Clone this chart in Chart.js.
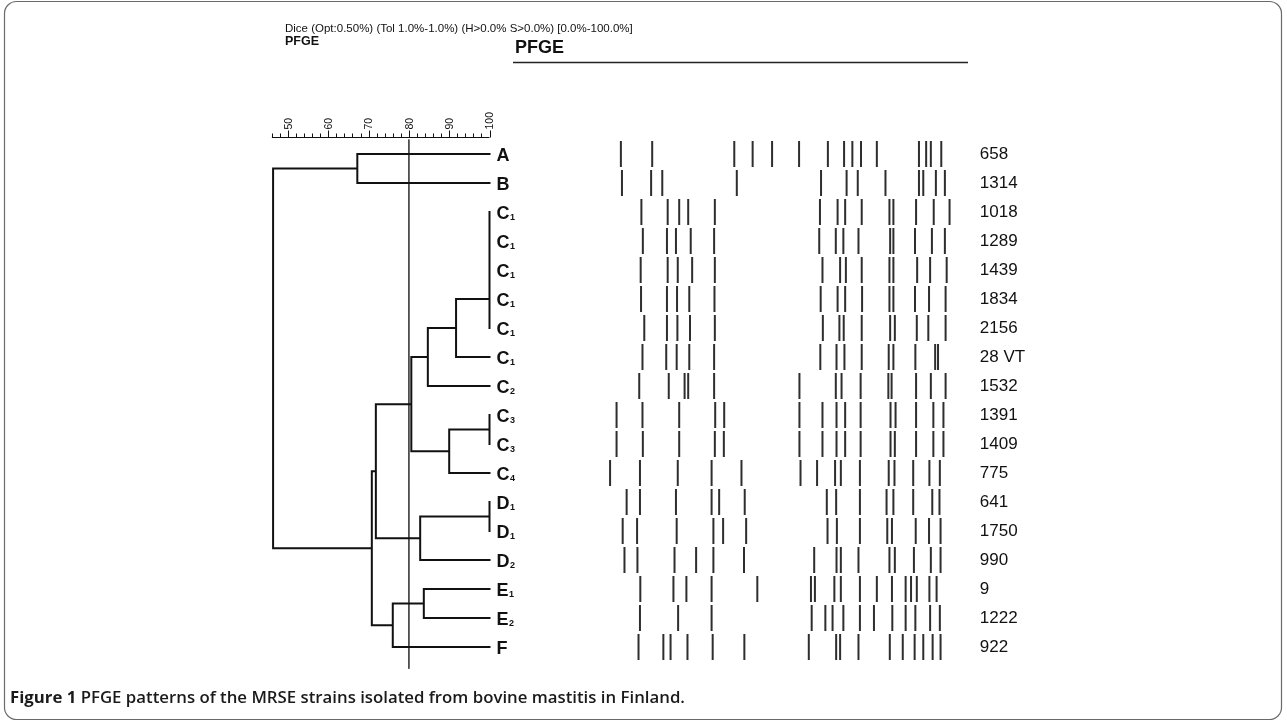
<!DOCTYPE html>
<html>
<head>
<meta charset="utf-8">
<title>PFGE dendrogram</title>
<script src="https://cdn.jsdelivr.net/npm/chart.js@4.4.1/dist/chart.umd.min.js"></script>
<style>
  html, body { margin: 0; background: #fff; }
  #wrap { position: relative; width: 1287px; height: 723px; }
</style>
</head>
<body>
<div id="wrap"><canvas id="pfgeChart"></canvas></div>
<script>
// strains, top to bottom
const typeLetters = ['A','B','C','C','C','C','C','C','C','C','C','C','D','D','D','E','E','F'];
const typeSubs    = ['', '', '1','1','1','1','1','1','2','3','3','4','1','1','2','1','2',''];
const strainIds   = ['658','1314','1018','1289','1439','1834','2156','28 VT','1532','1391','1409','775','641','1750','990','9','1222','922'];

// identical patterns (100 %): first row, last row, row where the branch joins
const groupFirst = [2, 9, 12];
const groupLast  = [6, 10, 13];
const groupJoin  = [5, 9.5, 12.5];

const mergeSim   = [91.7, 84.7, 90.0, 80.6, 82.8, 71.8, 83.7, 76.0, 70.8, 67.2, 46.3];
const mergeLeft  = ['g0', 'm0', 'g1', 'm1', 'g2', 'm3', 'l15', 'm6', 'm5', 'l0', 'm9'];
const mergeRight = ['l7', 'l8', 'l11', 'm2', 'l14', 'm4', 'l16', 'l17', 'm7', 'l1', 'm8'];

const simTicks = [50, 60, 70, 80, 90, 100];
const simMin = 46;
const cutoff = 80;

// band positions along each lane (0 = top of lane, 100 = end), one array per strain
const lane658  = [5.8, 14.5, 37.3, 42.4, 47.8, 55.3, 63.3, 67.8, 70.1, 72.5, 76.9, 88.6, 90.6, 91.9, 94.8];
const lane1314 = [6.1, 14.2, 17.3, 38.0, 61.4, 68.5, 71.6, 79.3, 88.6, 89.8, 93.3, 95.8];
const lane1018 = [11.5, 18.8, 22.0, 24.5, 31.9, 61.1, 66.0, 68.1, 72.7, 80.4, 81.5, 87.8, 92.7, 97.1];
const lane1289 = [11.9, 18.6, 21.1, 25.2, 31.7, 60.9, 65.5, 67.6, 71.8, 80.6, 81.5, 87.5, 92.2, 95.8];
const lane1439 = [11.3, 18.8, 21.6, 25.6, 31.9, 61.8, 66.7, 68.3, 72.7, 80.4, 81.5, 88.1, 91.7, 96.3];
const lane1834 = [11.4, 18.6, 21.4, 24.8, 31.8, 61.3, 66.0, 68.1, 72.8, 80.4, 81.5, 87.5, 91.4, 96.0];
const lane2156 = [12.3, 18.6, 21.5, 25.0, 31.9, 61.9, 66.5, 67.7, 72.7, 80.6, 81.9, 88.0, 91.2, 96.0];
const lane28VT = [11.8, 18.4, 21.3, 24.8, 31.7, 61.2, 65.7, 67.9, 72.7, 80.2, 81.5, 87.6, 93.1, 93.9];
const lane1532 = [10.9, 19.1, 23.5, 24.5, 31.7, 55.4, 65.5, 67.1, 72.4, 80.1, 81.0, 87.8, 91.9, 96.0];
const lane1391 = [4.6, 11.8, 22.0, 32.0, 34.5, 55.4, 61.8, 65.7, 68.1, 72.4, 80.7, 82.1, 87.8, 92.6, 95.4];
const lane1409 = [4.6, 11.9, 22.0, 31.9, 34.4, 55.4, 61.8, 65.7, 68.1, 72.4, 80.7, 81.9, 87.8, 92.6, 95.4];
const lane775  = [2.8, 11.1, 21.6, 31.0, 39.3, 55.7, 60.3, 65.3, 66.9, 72.2, 80.2, 81.8, 87.0, 91.5, 94.4];
const lane641  = [7.4, 11.1, 21.1, 31.0, 33.1, 40.2, 63.0, 65.6, 72.2, 79.6, 81.5, 87.0, 92.3, 94.3];
const lane1750 = [6.3, 10.3, 21.3, 31.5, 34.2, 40.6, 63.2, 65.8, 72.2, 79.8, 81.1, 87.7, 91.4, 94.6];
const lane990  = [6.8, 10.4, 20.7, 26.7, 31.5, 40.0, 59.5, 65.7, 66.9, 71.8, 80.4, 81.9, 87.2, 91.9, 94.6];
const lane9    = [11.2, 20.4, 24.0, 31.0, 43.7, 58.6, 59.7, 65.1, 66.9, 72.2, 76.9, 81.1, 84.9, 86.4, 88.0, 91.5, 93.5];
const lane1222 = [11.1, 21.7, 31.0, 58.8, 62.6, 64.6, 67.6, 72.2, 76.1, 81.2, 84.9, 87.6, 91.7, 94.4];
const lane922  = [10.7, 17.6, 19.6, 24.3, 31.3, 40.1, 58.0, 65.6, 66.7, 71.8, 80.5, 84.1, 87.4, 89.8, 92.4, 94.6];

const lanes = [lane658, lane1314, lane1018, lane1289, lane1439, lane1834, lane2156, lane28VT, lane1532,
  lane1391, lane1409, lane775, lane641, lane1750, lane990, lane9, lane1222, lane922];

// ---- layout: the chart area is the whole canvas, scales are placed by their ranges
const W = 1287, H = 723;
function span(v0, p0, v1, p1, size) {
  const k = (p1 - p0) / (v1 - v0);
  const min = v0 - p0 / k;
  return { min, max: min + size / k };
}
const simSpan = span(50, 288, 100, 489.5, W);
const laneSpan = span(0, 600, 100, 960, W);
const rowSpan = span(0, 154, 17, 647, H);
const bandHalf = 0.45;
const rulerRow = -0.59;
const idLanePos = 105.5;
const gap = () => ({ x: null, y: null });

// ---- tree segments
const nodes = [];
function nodePos(ref) {
  const i = +ref.slice(1);
  if (ref[0] === 'l') return { x: 100, y: i };
  if (ref[0] === 'g') return { x: 100, y: groupJoin[i] };
  return nodes[i];
}
const treePts = [];
mergeSim.forEach((s, i) => {
  const a = nodePos(mergeLeft[i]);
  const b = nodePos(mergeRight[i]);
  treePts.push({ x: a.x, y: a.y }, { x: s, y: a.y }, { x: s, y: b.y }, { x: b.x, y: b.y }, gap());
  nodes.push({ x: s, y: (a.y + b.y) / 2 });
});
groupFirst.forEach((f, i) => treePts.push({ x: 100, y: f }, { x: 100, y: groupLast[i] }, gap()));

const bandPts = [];
lanes.forEach((lane, row) => lane.forEach((u) => {
  bandPts.push({ x: u, y: row - bandHalf }, { x: u, y: row + bandHalf }, gap());
}));

const SANS = '"Liberation Sans", Arial, sans-serif';

const decorPlugin = {
  id: 'decor',
  afterDraw(chart) {
    const ctx = chart.ctx;
    const sx = chart.scales.x, lx = chart.scales.xb, sy = chart.scales.y;
    ctx.save();

    // frame
    ctx.strokeStyle = '#6a6a6a';
    ctx.lineWidth = 1.2;
    ctx.beginPath();
    ctx.roundRect(4.5, 1.5, 1277, 718, 12);
    ctx.stroke();

    // header
    ctx.fillStyle = '#111';
    ctx.textBaseline = 'middle';
    ctx.textAlign = 'left';
    ctx.font = '11.5px ' + SANS;
    ctx.fillText('Dice (Opt:0.50%) (Tol 1.0%-1.0%) (H>0.0% S>0.0%) [0.0%-100.0%]', 285, 29);
    ctx.font = 'bold 12.5px ' + SANS;
    ctx.fillText('PFGE', 285, 42);
    ctx.font = 'bold 18px ' + SANS;
    ctx.fillText('PFGE', 515, 48);
    ctx.strokeStyle = '#222';
    ctx.lineWidth = 1.5;
    ctx.beginPath();
    ctx.moveTo(513, 62.5);
    ctx.lineTo(968, 62.5);
    ctx.stroke();

    // similarity ruler
    const ay = Math.round(sy.getPixelForValue(rulerRow)) + 0.5;
    ctx.strokeStyle = '#111';
    ctx.lineWidth = 1;
    ctx.beginPath();
    ctx.moveTo(sx.getPixelForValue(simMin), ay);
    ctx.lineTo(sx.getPixelForValue(100), ay);
    for (let v = simMin; v <= 100; v += 2) {
      const px = Math.round(sx.getPixelForValue(v)) + 0.5;
      ctx.moveTo(px, ay);
      ctx.lineTo(px, ay - (v % 10 === 0 ? 7 : 4));
    }
    ctx.stroke();
    ctx.font = '10.5px ' + SANS;
    simTicks.forEach((v) => {
      ctx.save();
      ctx.translate(sx.getPixelForValue(v) + 1, ay - 8);
      ctx.rotate(-Math.PI / 2);
      ctx.textAlign = 'left';
      ctx.textBaseline = 'middle';
      ctx.fillText(String(v), 0, 0);
      ctx.restore();
    });

    // leaf labels and strain numbers
    const labelX = sx.getPixelForValue(100) + 7;
    typeLetters.forEach((t, row) => {
      const y = sy.getPixelForValue(row);
      ctx.textBaseline = 'alphabetic';
      ctx.font = 'bold 18px ' + SANS;
      ctx.fillText(t, labelX, y + 6.5);
      if (typeSubs[row]) {
        const w = ctx.measureText(t).width;
        ctx.font = 'bold 9px ' + SANS;
        ctx.fillText(typeSubs[row], labelX + w + 0.5, y + 7.5);
      }
      ctx.textBaseline = 'middle';
      ctx.font = '17px ' + SANS;
      ctx.fillText(strainIds[row], lx.getPixelForValue(idLanePos), y);
    });

    // caption
    ctx.textBaseline = 'middle';
    ctx.fillStyle = '#1a1a1a';
    ctx.font = 'bold 16.8px "Open Sans", sans-serif';
    const head = 'Figure 1 ';
    ctx.fillText(head, 10, 698);
    const hw = ctx.measureText(head).width;
    ctx.font = '600 16.8px "Open Sans", sans-serif';
    ctx.fillText('PFGE patterns of the MRSE strains isolated from bovine mastitis in Finland.', 10 + hw, 698);

    ctx.restore();
  }
};

new Chart(document.getElementById('pfgeChart'), {
  type: 'scatter',
  data: {
    datasets: [
      { label: 'tree', data: treePts, xAxisID: 'x', yAxisID: 'y', showLine: true, borderColor: '#111',
        borderWidth: 2, pointRadius: 0, spanGaps: false, borderJoinStyle: 'miter', borderCapStyle: 'square' },
      { label: 'cutoff', data: [{ x: cutoff, y: -0.5 }, { x: cutoff, y: 17.75 }], xAxisID: 'x', yAxisID: 'y',
        showLine: true, borderColor: '#444', borderWidth: 1, pointRadius: 0 },
      { label: 'bands', data: bandPts, xAxisID: 'xb', yAxisID: 'y', showLine: true, borderColor: '#2e2e2e',
        borderWidth: 2, pointRadius: 0, spanGaps: false, borderCapStyle: 'butt' }
    ]
  },
  options: {
    responsive: true,
    maintainAspectRatio: false,
    animation: false,
    events: [],
    layout: { padding: 0 },
    plugins: { legend: { display: false }, tooltip: { enabled: false } },
    scales: {
      x: { type: 'linear', display: false, min: simSpan.min, max: simSpan.max },
      xb: { type: 'linear', display: false, min: laneSpan.min, max: laneSpan.max },
      y: { type: 'linear', display: false, reverse: true, min: rowSpan.min, max: rowSpan.max }
    }
  },
  plugins: [decorPlugin]
});
</script>
</body>
</html>
